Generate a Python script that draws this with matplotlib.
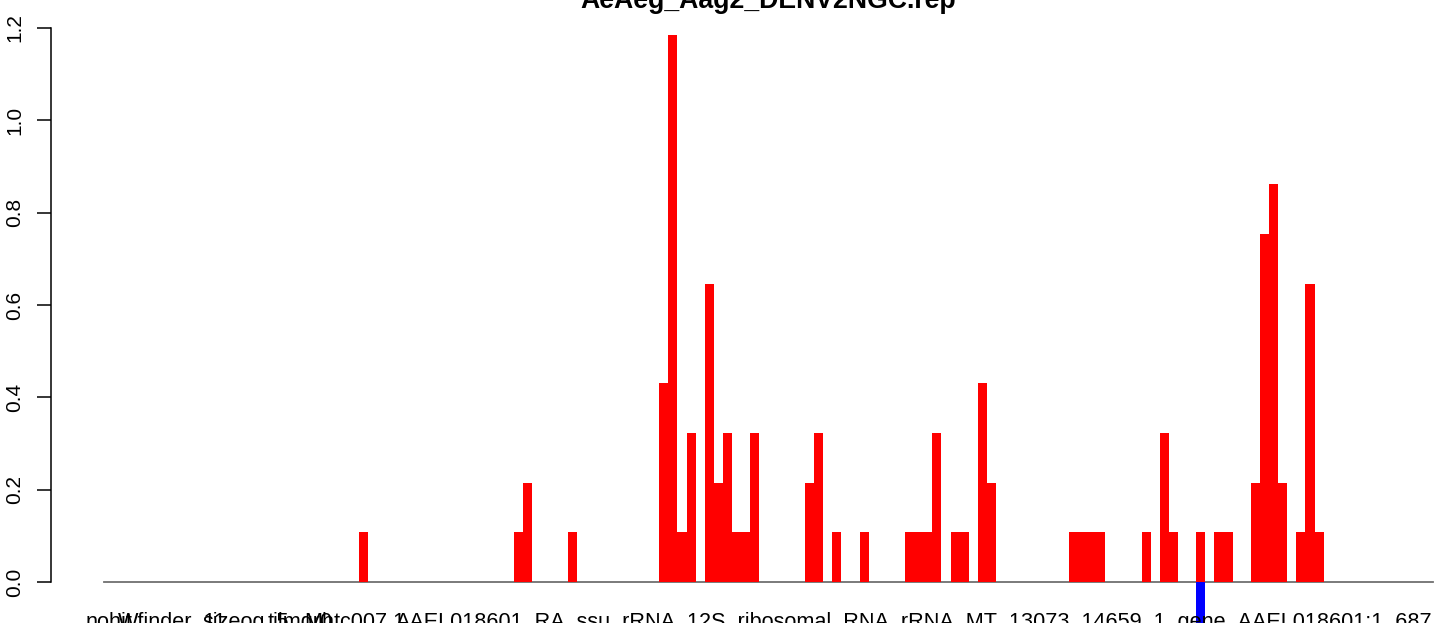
import numpy as np
import matplotlib.pyplot as plt
import matplotlib.transforms as mtransforms

plt.rcParams['font.family'] = ['Liberation Sans', 'DejaVu Sans']

# -------------------------------
# DATOS
# -------------------------------
n_bars = 146
title = 'AeAeg_Aag2_DENV2NGC.rep'

# barras rojas (posicion de la barra, valor)
red_idx = [28, 45, 46, 51,
           61, 62, 63, 64, 66, 67, 68, 69, 70, 71,
           77, 78, 80, 83, 88, 89, 90, 91, 93, 94, 96, 97,
           106, 107, 108, 109, 114, 116, 117, 120, 122, 123,
           126, 127, 128, 129, 131, 132, 133]
red_val = [0.108, 0.108, 0.215, 0.108,
           0.431, 1.185, 0.108, 0.323, 0.646, 0.215, 0.323, 0.108, 0.108, 0.323,
           0.215, 0.323, 0.108, 0.108, 0.108, 0.108, 0.108, 0.323, 0.108, 0.108, 0.431, 0.215,
           0.108, 0.108, 0.108, 0.108, 0.108, 0.323, 0.108, 0.108, 0.108, 0.108,
           0.215, 0.754, 0.862, 0.215, 0.108, 0.646, 0.108]

# barra azul (negativa)
blue_idx = [120]
blue_val = [-0.108]

# etiquetas del eje x (posicion, texto)
label_idx = [0, 7, 15, 21, 27]
label_txt = ['nohit', 'Wfinder_11', 'sizeog_5', 'tilmgr0', 'Mhtc007.1']
long_label = 'AAEL018601_RA_ssu_rRNA_12S_ribosomal_RNA_rRNA_MT_13073_14659_1_gene_AAEL018601:1_687'
long_label_left = 32.07

yticks = [0.0, 0.2, 0.4, 0.6, 0.8, 1.0, 1.2]

# -------------------------------
# GRAFICO
# -------------------------------
W, H = 1444, 623
fig = plt.figure(figsize=(W / 100, H / 100), dpi=100)

y_lo, y_hi = -0.15, 1.25
px_per_unit = 461.7
y0_px = 582
bottom_px = y0_px + (-y_lo) * px_per_unit
top_px = y0_px - y_hi * px_per_unit
ax = fig.add_axes([51 / W, 1 - bottom_px / H, 1435 / W, (bottom_px - top_px) / H])

heights = np.zeros(n_bars)
heights[red_idx] = red_val
x = np.arange(n_bars) + 0.5

ax.plot([0, n_bars], [0, 0], color='#707070', lw=1.3, zorder=1)
ax.bar(x, heights, width=1.0, color='#FF0000', linewidth=0, zorder=2)
ax.bar(np.array(blue_idx) + 0.5, blue_val, width=1.0, color='#0000FF', linewidth=0, zorder=2)

ax.set_xlim(-0.04 * n_bars, 1.04 * n_bars)
ax.set_ylim(y_lo, y_hi)

for s in ['top', 'right', 'bottom']:
    ax.spines[s].set_visible(False)
ax.spines['left'].set_bounds(0, 1.2)
ax.spines['left'].set_linewidth(1.1)
ax.set_xticks([])
ax.set_yticks(yticks)
ax.set_yticklabels([f'{v:.1f}' for v in yticks])
ax.tick_params(axis='y', length=10, width=1.1, pad=9, labelsize=15)
for lbl in ax.get_yticklabels():
    lbl.set_rotation(90)
    lbl.set_va('center')

# etiquetas de abajo (se cortan en el borde)
trans = mtransforms.blended_transform_factory(ax.transData, fig.transFigure)
for i, t in zip(label_idx, label_txt):
    ax.text(i + 0.5, -5 / H, t, transform=trans, ha='center', va='baseline', fontsize=15.6)
ax.text(long_label_left, -5 / H, long_label, transform=trans, ha='left', va='baseline', fontsize=15.6)

fig.text(768.5 / W, 1 - 8 / H, title, ha='center', va='baseline', fontsize=19.2, fontweight='bold')

fig.savefig('out.png', dpi=100)
